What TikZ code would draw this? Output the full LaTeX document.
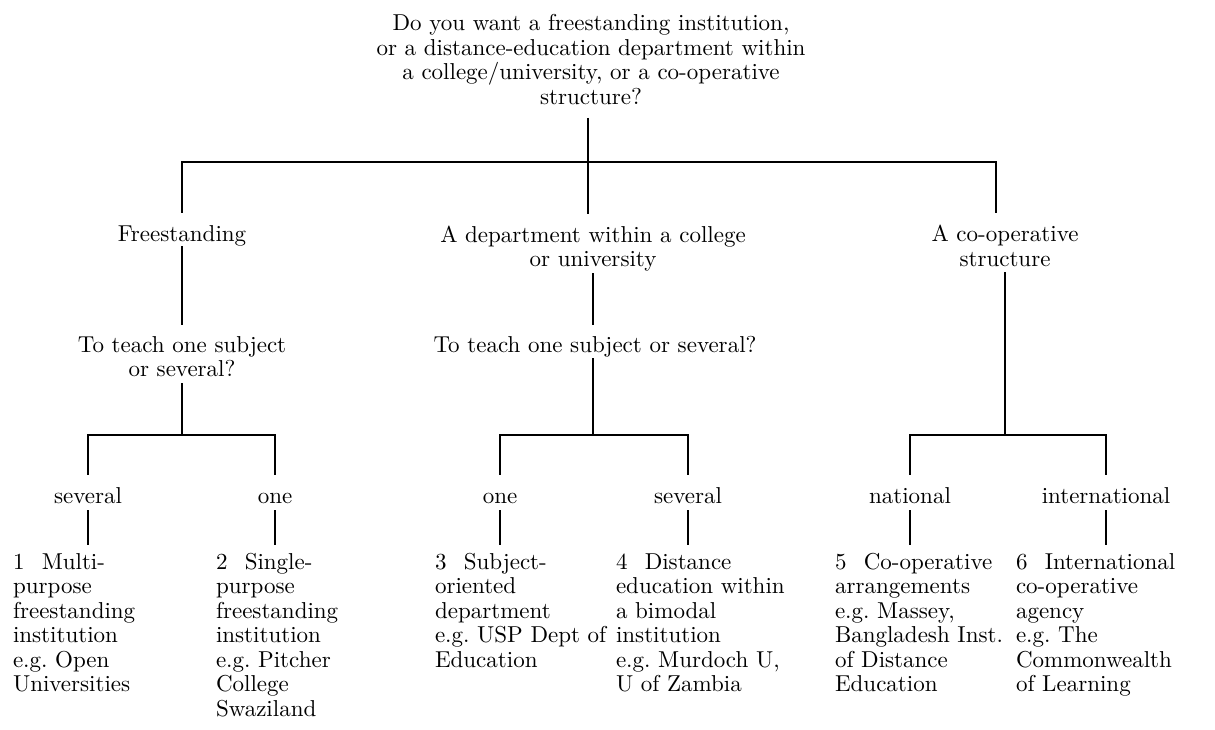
\documentclass[tikz,border=0pt]{standalone}
\usepackage{fontspec}
\setmainfont{lmroman10-regular}[Extension=.otf]
\usetikzlibrary{calc}
\begin{document}
\begin{tikzpicture}[x=1pt,y=-1pt,
  every node/.style={inner sep=0pt, outer sep=0pt, font=\fontsize{23}{24.5}\selectfont},
  txt/.style={anchor=north, align=center},
  leaf/.style={anchor=north west, align=left},
  conn/.style={line width=1.8pt, line cap=butt}]
\useasboundingbox (0,0) rectangle (1215,730);
% texts
\node[txt] (root) at (591,13.85) {\strut Do you want a freestanding institution,\\ or a distance-education department within\\ a college/university, or a co-operative\\ structure?\strut};
\node[txt] (free) at (182,224.5) {\strut Freestanding\strut};
\node[txt] (dept) at (593,225.2) {\strut A department within a college\\ or university\strut};
\node[txt] (coop) at (1005,224.5) {\strut A co-operative\\ structure\strut};
\node[txt] (q1) at (182,335.2) {\strut To teach one subject\\ or several?\strut};
\node[txt] (q2) at (595,335.2) {\strut To teach one subject or several?\strut};
\node[txt] (sevA) at (88,485.85) {\strut several\strut};
\node[txt] (oneA) at (275,485.85) {\strut one\strut};
\node[txt] (oneB) at (500,485.85) {\strut one\strut};
\node[txt] (sevB) at (688,485.85) {\strut several\strut};
\node[txt] (nat) at (910,485.85) {\strut national\strut};
\node[txt] (intl) at (1106,485.85) {\strut international\strut};
\node[leaf] (l1) at (13,551.85) {\strut 1\hspace{0.75em}Multi-\\purpose\\freestanding\\institution\\e.g.\ Open\\Universities};
\node[leaf] (l2) at (216,551.85) {\strut 2\hspace{0.75em}Single-\\purpose\\freestanding\\institution\\e.g.\ Pitcher\\College\\Swaziland};
\node[leaf] (l3) at (435,551.85) {\strut 3\hspace{0.75em}Subject-\\oriented\\department\\e.g.\ USP Dept of\\Education};
\node[leaf] (l4) at (616,551.85) {\strut 4\hspace{0.75em}Distance\\education within\\a bimodal\\institution\\e.g.\ Murdoch U,\\U of Zambia};
\node[leaf] (l5) at (835,551.85) {\strut 5\hspace{0.75em}Co-operative\\arrangements\\e.g.\ Massey,\\Bangladesh Inst.\\of Distance\\Education};
\node[leaf] (l6) at (1016,551.85) {\strut 6\hspace{0.75em}International\\co-operative\\agency\\e.g.\ The\\Commonwealth\\of Learning};
% bus coordinates
\coordinate (b1) at (588,162);
\coordinate (b1R) at (996,162);
\coordinate (b2) at (182,435);
\coordinate (b3) at (593,435);
\coordinate (b4) at (1005,435);
% connectors
\draw[conn, shorten <=6pt] (root.south -| b1) -- (b1);
\draw[conn, shorten >=11pt] (b1) -| (free.north);
\draw[conn, shorten >=11.5pt] (b1) -- (b1 |- dept.north);
\draw[conn, shorten >=11pt] (b1) -- (b1R) -- (b1R |- coop.north);
\draw[conn, shorten <=-3pt, shorten >=10pt] (free.south) -- (free.south |- q1.north);
\draw[conn, shorten <=-1pt, shorten >=10pt] (dept.south) -- (dept.south |- q2.north);
\draw[conn, shorten <=-1pt] (q1.south) -- (q1.south |- b2);
\draw[conn, shorten <=-1.5pt] (q2.south -| b3) -- (b3);
\draw[conn, shorten <=-1.5pt] (coop.south) -- (coop.south |- b4);
\draw[conn, shorten >=11pt] (b2) -| (sevA.north);
\draw[conn, shorten >=11pt] (b2) -| (oneA.north);
\draw[conn, shorten >=11pt] (b3) -| (oneB.north);
\draw[conn, shorten >=11pt] (b3) -| (sevB.north);
\draw[conn, shorten >=11pt] (b4) -| (nat.north);
\draw[conn, shorten >=11pt] (b4) -| (intl.north);
\draw[conn, shorten >=7pt] (sevA.south) -- (sevA.south |- l1.north);
\draw[conn, shorten >=7pt] (oneA.south) -- (oneA.south |- l2.north);
\draw[conn, shorten >=7pt] (oneB.south) -- (oneB.south |- l3.north);
\draw[conn, shorten >=7pt] (sevB.south) -- (sevB.south |- l4.north);
\draw[conn, shorten >=7pt] (nat.south) -- (nat.south |- l5.north);
\draw[conn, shorten >=7pt] (intl.south) -- (intl.south |- l6.north);
\end{tikzpicture}
\end{document}
